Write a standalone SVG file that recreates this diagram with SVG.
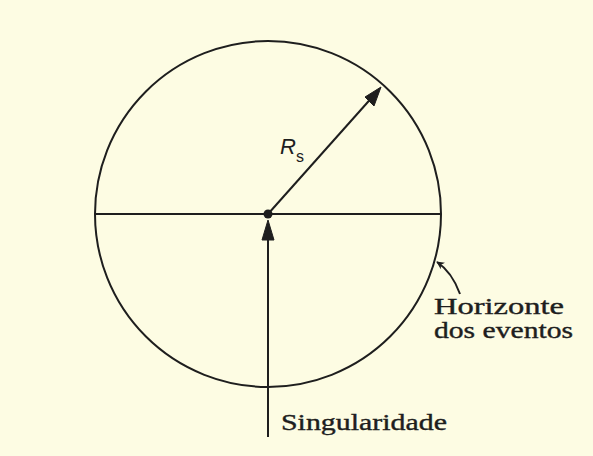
<svg xmlns="http://www.w3.org/2000/svg" width="593" height="456" viewBox="0 0 593 456">
<style>
.ln{stroke:#1e1e1e;stroke-width:2;fill:none}
.ah{fill:#1e1e1e;stroke:#1e1e1e;stroke-width:1;stroke-linejoin:round}
.t{font-family:"Liberation Serif",serif;font-size:24px;fill:#1e1e1e;stroke:#1e1e1e;stroke-width:0.4}
.r{font-family:"Liberation Sans",sans-serif;fill:#1e1e1e}
</style>
<defs>
<marker id="sm" viewBox="0 0 10 10" refX="9" refY="5" markerWidth="8" markerHeight="8" markerUnits="userSpaceOnUse" orient="auto">
<path d="M0,0 L10,5 L0,10 L3,5 Z" fill="#1e1e1e"/>
</marker>
</defs>
<rect width="593" height="456" fill="#fdfce3"/>
<g id="horizon">
<circle cx="268" cy="214" r="173" class="ln"/>
<line x1="95" y1="214" x2="441" y2="214" class="ln"/>
</g>
<g id="singularity-point">
<circle cx="268" cy="214" r="4.5" fill="#1e1e1e"/>
</g>
<g id="connectors">
<line x1="268" y1="214" x2="375" y2="94" class="ln"/>
<path d="M381,87 L374,106 L365,97 Z" class="ah"/>
<line x1="268" y1="437" x2="268" y2="236" class="ln"/>
<path d="M268,220 L274,240 L262,240 Z" class="ah"/>
<path d="M460,294 Q452,272 437,262" class="ln" stroke-width="1.5" marker-end="url(#sm)"/>
</g>
<g id="label-rs">
<text x="280" y="154" class="r" font-size="22" font-style="italic">R</text>
<text x="296" y="162" class="r" font-size="16">s</text>
</g>
<g id="label-horizonte">
<text x="434" y="314" class="t" textLength="130" lengthAdjust="spacingAndGlyphs">Horizonte</text>
<text x="434" y="338" class="t" textLength="139" lengthAdjust="spacingAndGlyphs">dos eventos</text>
</g>
<g id="label-singularidade">
<text x="281" y="430" class="t" textLength="166" lengthAdjust="spacingAndGlyphs">Singularidade</text>
</g>
</svg>
